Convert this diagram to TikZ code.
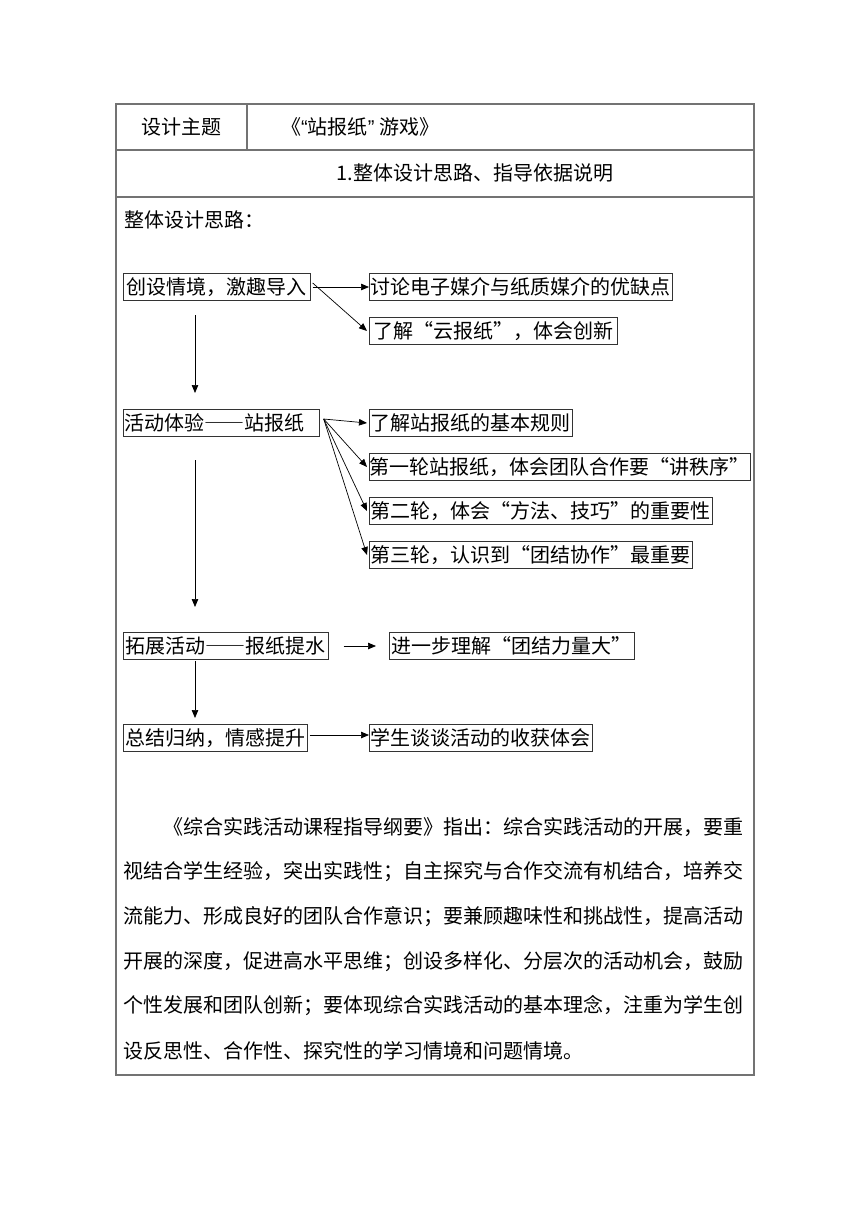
\documentclass[tikz,border=0pt]{standalone}
\usepackage{fontspec}
\setmainfont[RawFeature=+fwid]{Noto Sans CJK SC}
\newfontfamily\plainf{Noto Sans CJK SC}
\newfontfamily\quotef{Liberation Sans}
\usetikzlibrary{arrows.meta}

\begin{document}
\begin{tikzpicture}[x=1pt,y=-1pt,>={Triangle[length=8pt,width=6.5pt]},
  font=\fontsize{20pt}{24pt}\selectfont,
  stepbox/.style={draw=black!80,line width=0.7pt,inner xsep=1.5pt,inner ysep=0pt,minimum height=27pt,anchor=west},
  link/.style={->,line width=0.7pt},
  frame/.style={draw=black!55,line width=1.2pt}]
  \useasboundingbox (0,0) rectangle (860,1216);
  % table frame
  \draw[frame] (116,104) rectangle (754,1075);
  \draw[frame] (116,150)--(754,150);
  \draw[frame] (116,197)--(754,197);
  \draw[frame] (247,104)--(247,150);
  \node (theme) at (181.5,127) {设计主题};
  \node[anchor=west,inner sep=0pt] (title) at (281,127) {《{\quotef “}站报纸{\quotef ”}\hspace{5pt}游戏》};
  \node (head) at (475,173) {{\plainf 1.}整体设计思路、指导依据说明};
  \node[anchor=west,inner sep=0pt] (lead) at (124,220) {整体设计思路：};
  % left column
  \node[stepbox,inner xsep=3.5pt] (a1) at (123,287) {创设情境，激趣导入};
  \node[stepbox,text width=193pt,align=left] (a2) at (123,423) {活动体验——站报纸};
  \node[stepbox,inner xsep=2.5pt] (a3) at (123,646) {拓展活动——报纸提水};
  \node[stepbox,inner xsep=2pt] (a4) at (123,738) {总结归纳，情感提升};
  % right column
  \node[stepbox] (b1) at (369,287) {讨论电子媒介与纸质媒介的优缺点};
  \node[stepbox,inner xsep=4pt] (b2) at (369,331) {了解“云报纸”，体会创新};
  \node[stepbox] (b3) at (369,423) {了解站报纸的基本规则};
  \node[stepbox,inner xsep=0.5pt] (b4) at (369,467) {第一轮站报纸，体会团队合作要“讲秩序”};
  \node[stepbox] (b5) at (369,511) {第二轮，体会“方法、技巧”的重要性};
  \node[stepbox] (b6) at (369,555) {第三轮，认识到“团结协作”最重要};
  \node[stepbox,inner xsep=2.5pt] (b7) at (389,646) {进一步理解“团结力量大”};
  \node[stepbox] (b8) at (369,738) {学生谈谈活动的收获体会};
  % connectors
  \draw[link] ([xshift=2pt]a1.east) -- (b1.west);
  \draw[link] ([xshift=2pt,yshift=4pt]a1.east) -- ([xshift=-2pt]b2.west);
  \coordinate (o2) at ([xshift=4pt,yshift=4pt]a2.east);
  \foreach \b in {b3,b4,b5,b6}
    \draw[link] (o2) -- ([xshift=-2pt]\b.west);
  \draw[link] ([xshift=15pt]a3.east) -- ([xshift=-13pt]b7.west);
  \draw[link] ([xshift=2pt,yshift=3pt]a4.east) -- ([yshift=3pt]b8.west);
  \coordinate (v1s) at (195,315); \coordinate (v1e) at (195,393);
  \coordinate (v2s) at (195,460); \coordinate (v2e) at (195,607);
  \coordinate (v3s) at (195,661); \coordinate (v3e) at (195,718);
  \foreach \v in {1,2,3}
    \draw[link] (v\v s) -- (v\v e);
  % guideline paragraph
  \node[anchor=west,inner sep=0pt] (p1) at (163,827.5) {《综合实践活动课程指导纲要》指出：综合实践活动的开展，要重};
  \foreach \t [count=\i from 2] in {视结合学生经验，突出实践性；自主探究与合作交流有机结合，培养交,
      流能力、形成良好的团队合作意识；要兼顾趣味性和挑战性，提高活动,
      开展的深度，促进高水平思维；创设多样化、分层次的活动机会，鼓励,
      个性发展和团队创新；要体现综合实践活动的基本理念，注重为学生创,
      设反思性、合作性、探究性的学习情境和问题情境。}
    \node[anchor=west,inner sep=0pt] (p\i) at (123,827.5+44.6*\i-44.6) {\t};
\end{tikzpicture}
\end{document}
